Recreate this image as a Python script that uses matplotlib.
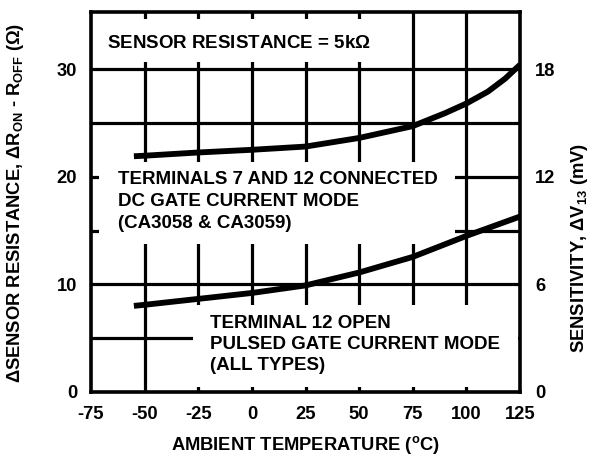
import matplotlib
matplotlib.use("Agg")
import matplotlib.pyplot as plt
from matplotlib.patches import Rectangle

plt.rcParams['font.family'] = ['Liberation Sans', 'DejaVu Sans']
plt.rcParams['font.weight'] = 'bold'
plt.rcParams['axes.labelweight'] = 'bold'
plt.rcParams['axes.unicode_minus'] = False
plt.rcParams['mathtext.fontset'] = 'custom'
plt.rcParams['mathtext.rm'] = 'Liberation Sans:bold'
plt.rcParams['mathtext.bf'] = 'Liberation Sans:bold'
plt.rcParams['mathtext.sf'] = 'Liberation Sans'
plt.rcParams['mathtext.default'] = 'rm'

# temperature (C) and curves
temp_dc = [-55, -50, -25, 0, 25, 50, 75, 90, 100, 110, 118, 125]
r_dc = [21.9, 21.95, 22.25, 22.5, 22.8, 23.6, 24.7, 25.9, 26.8, 27.9, 29.1, 30.4]
temp_pulsed = [-55, -50, -25, 0, 25, 50, 75, 100, 125]
r_pulsed = [8.0, 8.1, 8.65, 9.2, 9.9, 11.1, 12.55, 14.5, 16.3]

x_ticks = [-75, -50, -25, 0, 25, 50, 75, 100, 125]
y_ticks = [0, 10, 20, 30]
y2_ticks = [0, 6, 12, 18]
grid_x = [-50, -25, 0, 25, 50, 75, 100]
grid_y = [5, 10, 15, 20, 25, 30]

note_top = "SENSOR RESISTANCE = 5k$\\mathsf{\u03A9}$"
note_dc = ["TERMINALS 7 AND 12 CONNECTED", "DC GATE CURRENT MODE", "(CA3058 & CA3059)"]
note_pulsed = ["TERMINAL 12 OPEN", "PULSED GATE CURRENT MODE", "(ALL TYPES)"]

fig = plt.figure(figsize=(5.89, 4.70), dpi=100)
ax = fig.add_axes([91 / 589, 78 / 470, 429 / 589, 380 / 470])
ymax = 35.3
ax.set_xlim(-75, 125)
ax.set_ylim(0, ymax)

lw_grid = 2.3
for gx in grid_x:
    ax.axvline(gx, color='black', lw=lw_grid, zorder=1)
for gy in grid_y:
    ax.axhline(gy, color='black', lw=lw_grid, zorder=1)

# white areas behind the notes that break the grid
for (x0, y0, x1, y1) in [(-75, 30.65, 62, 34.65), (-71.3, 13.75, 94.5, 21.35), (-27.5, 0.42, 124.2, 8.1)]:
    ax.add_patch(Rectangle((x0, y0), x1 - x0, y1 - y0, facecolor='white', edgecolor='none', zorder=2))

ax.plot(temp_dc, r_dc, color='black', lw=4.2, solid_capstyle='butt', zorder=3)
ax.plot(temp_pulsed, r_pulsed, color='black', lw=4.2, solid_capstyle='butt', zorder=3)

fs = 13.5
ax.text(-67.7, 32.4, note_top, fontsize=fs, va='center', zorder=4)
for i, line in enumerate(note_dc):
    ax.text(-62.3, 19.74 - i * 2.04, line, fontsize=fs, va='center', zorder=4)
for i, line in enumerate(note_pulsed):
    ax.text(-19.5, 6.36 - i * 1.94, line, fontsize=fs, va='center', zorder=4)

for s in ax.spines.values():
    s.set_linewidth(2.6)
    s.set_zorder(5)

lab = 13.2
ax.set_xticks(x_ticks)
ax.set_yticks(y_ticks)
ax.tick_params(axis='x', length=0, pad=10, labelsize=lab)
ax.tick_params(axis='y', length=0, pad=10, labelsize=lab)
ax.set_xlabel("AMBIENT TEMPERATURE ($\\mathregular{^o}$C)", fontsize=lab, labelpad=8)
ax.set_ylabel("$\\mathsf{\u0394}$SENSOR RESISTANCE, $\\mathsf{\u0394}$R$_{ON}$ - R$_{OFF}$ ($\\mathsf{\u03A9}$)",
              fontsize=lab)
ax.yaxis.set_label_coords(-0.152, 0.497)

ax2 = ax.twinx()
ax2.set_ylim(0, ymax * 0.6)
ax2.set_yticks(y2_ticks)
ax2.tick_params(axis='y', length=0, pad=11, labelsize=lab)
for s in ax2.spines.values():
    s.set_visible(False)
ax2.set_ylabel("SENSITIVITY, $\\mathsf{\u0394}$V$_{13}$ (mV)", fontsize=lab)
ax2.yaxis.set_label_coords(1.114, 0.38)

fig.savefig("out.png", dpi=100)
